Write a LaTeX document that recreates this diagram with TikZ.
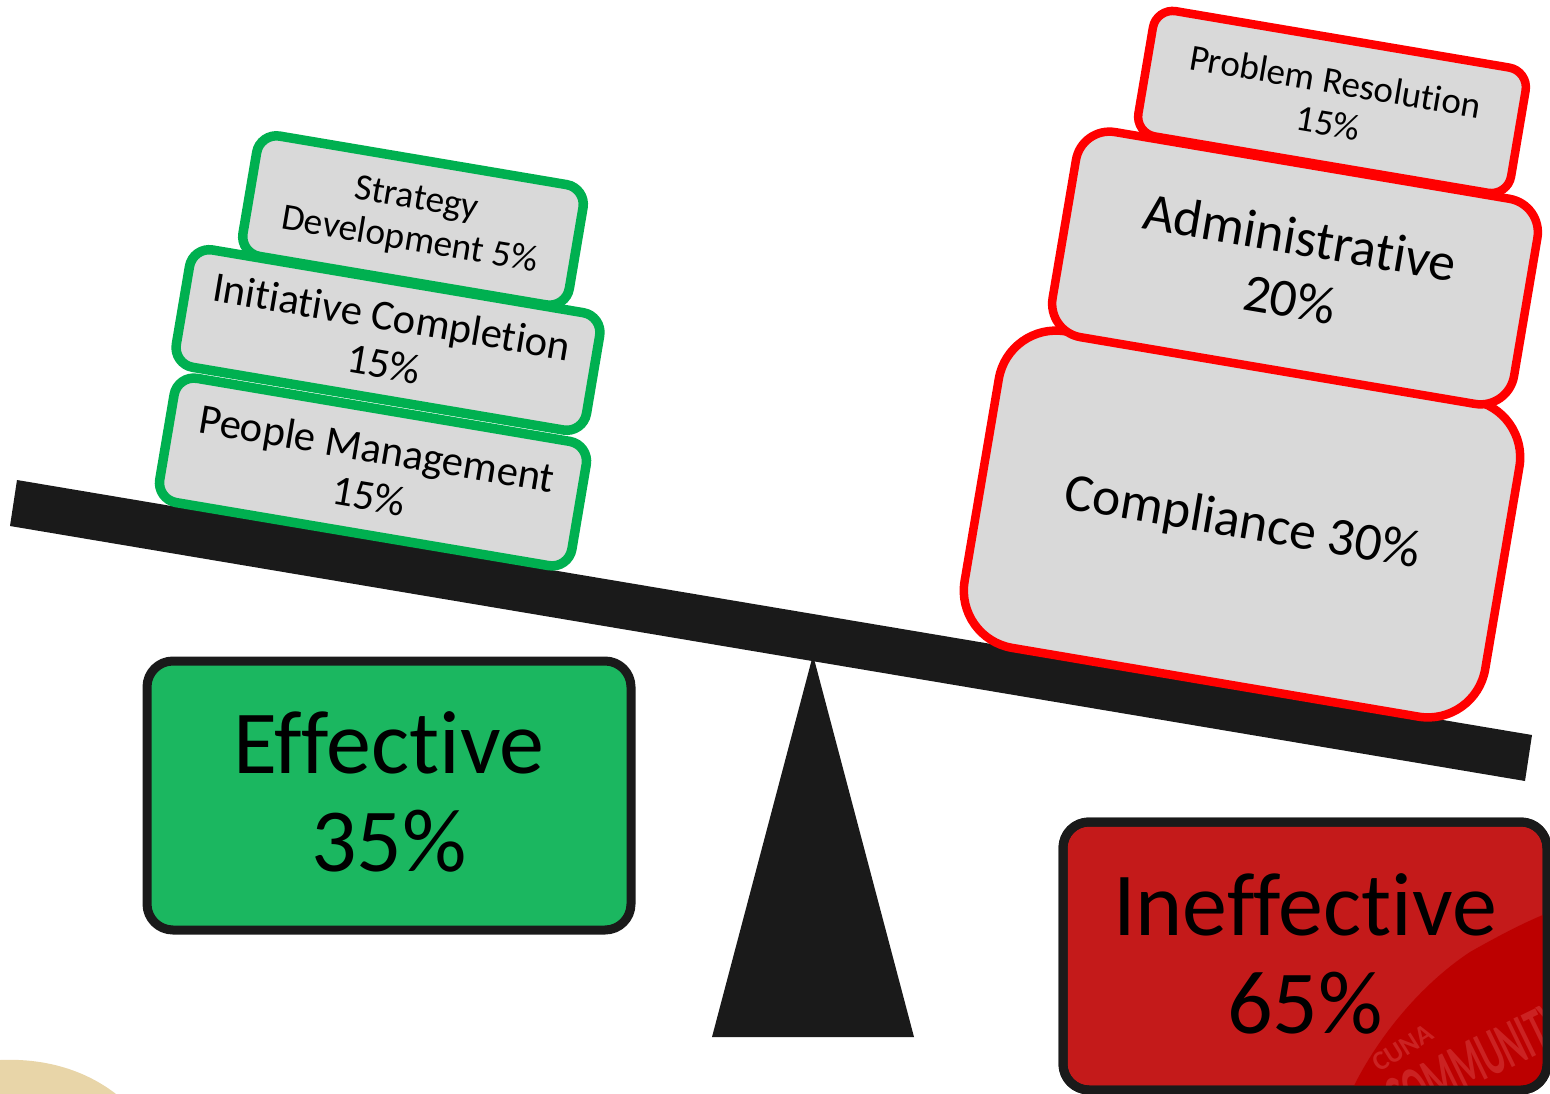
\documentclass[tikz,border=0pt]{standalone}
\usepackage{fontspec}
\usepackage{graphicx}
\setmainfont{Carlito}[Ligatures=CommonOff]
\definecolor{beamblk}{HTML}{1A1A1A}
\definecolor{boxgrey}{HTML}{D9D9D9}
\definecolor{grn}{HTML}{00B050}
\definecolor{effgrn}{HTML}{1BB760}
\definecolor{inefred}{HTML}{C41A1A}
\definecolor{wmred}{HTML}{BC0000}
\definecolor{wmtext}{HTML}{CB2222}
\definecolor{tan}{HTML}{E8D5A8}
\tikzset{
  block/.style={rectangle,fill=boxgrey,rotate=-9.6,align=center,inner sep=0pt,text=black},
  greenblock/.style={block,draw=grn,line width=9.5pt,rounded corners=20pt},
  redblock/.style={block,draw=red,line width=8.5pt},
  result/.style={rectangle,rounded corners=26pt,draw=beamblk,line width=9pt,inner sep=0pt},
  resultlabel/.style={align=center,inner sep=0pt,text=black,font=\fontsize{90}{98}\selectfont},
  beampart/.style={fill=beamblk,draw=none},
}
\begin{document}
\begin{tikzpicture}[x=1pt,y=-1pt]
\useasboundingbox (0,0) rectangle (1550,1094);
\clip (0,0) rectangle (1550,1094);
\fill[white] (0,0) rectangle (1550,1094);
% faint backdrop shape
\fill[tan] (0,1060) .. controls (45,1058) and (85,1070) .. (116,1094) -- (0,1094) -- cycle;
% beam and fulcrum
\path[beampart] (17,480) -- (1532,735) -- (1525,781) -- (10,526) -- cycle;
\path[beampart] (813,655) -- (914,1037) -- (712,1037) -- cycle;
% green stack
\node[greenblock,minimum width=418pt,minimum height=126pt,font=\fontsize{42.6}{48}\selectfont] (people) at (373,472) {People Management\\15\%};
\node[greenblock,minimum width=416pt,minimum height=119pt,font=\fontsize{42.6}{48}\selectfont] (initiative) at (388,340) {Initiative Completion\\15\%};
\node[greenblock,minimum width=331pt,minimum height=122pt,font=\fontsize{37.4}{42}\selectfont] (strategy) at (413,220.5) {Strategy\\Development 5\%};
% red stack
\node[redblock,rounded corners=58pt,minimum width=528pt,minimum height=321pt,font=\fontsize{53.5}{68}\selectfont] (compliance) at (1242,524) {Compliance 30\%};
\node[redblock,rounded corners=34pt,minimum width=468pt,minimum height=208pt,font=\fontsize{53.6}{63}\selectfont] (admin) at (1295,268) {Administrative\\20\%};
\node[redblock,rounded corners=20pt,minimum width=378pt,minimum height=127pt,font=\fontsize{37}{42}\selectfont] (problem) at (1332,102) {Problem Resolution\\15\%};
% results
\node[result,fill=effgrn,minimum width=484pt,minimum height=269pt] (effective) at (389,795.5) {};
\node[resultlabel] (efflabel) at (389,792) {Effective\\35\%};
\node[result,fill=inefred,minimum width=484pt,minimum height=268pt] (ineffective) at (1305,956) {};
% watermark inside the red box
\begin{scope}
\clip[rounded corners=22pt] (1067,826) rectangle (1543,1086);
\fill[wmred] (1350,1094) .. controls (1375,1040) and (1420,985) .. (1470,952) .. controls (1500,935) and (1525,922) .. (1550,912) -- (1550,1094) -- cycle;
\node[rotate=32,text=wmtext,font=\fontsize{27}{27}\selectfont\bfseries] (cuna) at (1403,1048) {CUNA};
\node[rotate=26,anchor=west,text=wmtext,inner sep=0pt,font=\fontsize{66}{66}\selectfont\bfseries] (community) at (1390,1103) {\scalebox{0.52}[1]{COMMUNITY}};
\end{scope}
\node[result,minimum width=484pt,minimum height=268pt] (ineffectiveframe) at (1305,956) {};
\node[resultlabel] (inefflabel) at (1305,954) {Ineffective\\65\%};
\end{tikzpicture}
\end{document}
